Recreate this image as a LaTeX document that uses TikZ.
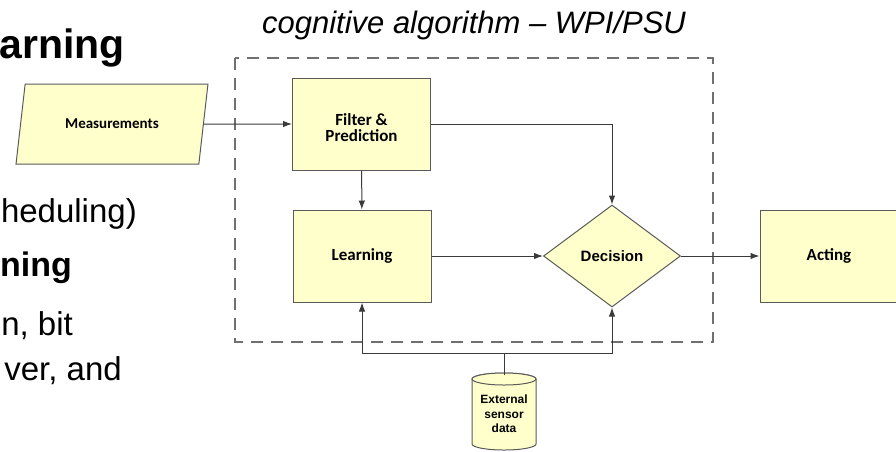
\documentclass[tikz,border=0pt]{standalone}
\usepackage{fontspec}
\setmainfont{Liberation Sans}
\newfontfamily\calibri{Carlito}
\usetikzlibrary{shapes.geometric,arrows.meta}
\definecolor{cyellow}{HTML}{FFFFCC}
\definecolor{cdarkgray}{HTML}{3A3A3A}
\definecolor{cborder}{HTML}{5A5A5A}
\definecolor{cgray}{HTML}{707070}

\begin{document}
\begin{tikzpicture}[x=1pt,y=-1pt,
	box/.style={draw=cborder, line width=1pt, fill=cyellow, text=black, align=center, inner sep=0pt},
	proc/.style={box, rectangle, minimum width=138pt, minimum height=92pt, font=\calibri\bfseries\fontsize{17}{16}\selectfont},
	link/.style={draw=cdarkgray, line width=1pt},
	arr/.style={link, -{Latex[length=9pt,width=6.5pt]}},
	slide/.style={font=\fontsize{33}{40}\selectfont, anchor=base east, inner sep=0pt}]
		\useasboundingbox (0,0) rectangle (896,451);
		\clip (0,0) rectangle (896,451);
		\node[slide, font=\bfseries\fontsize{41}{48}\selectfont] (T1) at (125,58) {arning};
		\node[slide] (T2) at (137,222) {heduling)};
		\node[slide, font=\bfseries\fontsize{34}{40}\selectfont] (T3) at (72,276) {ning};
		\node[slide] (T4) at (73,335) {n, bit};
		\node[slide] (T5) at (122,380) {ver, and};
		\node[font=\itshape\fontsize{31}{37}\selectfont, anchor=base, inner sep=0pt] (title) at (474,33) {cognitive algorithm \textendash{} WPI/PSU};
		\draw[cgray, line width=1.2pt, dash pattern=on 12pt off 8pt] (235,58) rectangle (713,342);
		\node[box, trapezium, trapezium left angle=63.4, trapezium right angle=116.6, trapezium stretches=true, minimum width=192pt, minimum height=80pt, font=\calibri\bfseries\fontsize{15}{18}\selectfont] (M) at (112,124) {Measurements};
		\node[proc, text height=36pt] (F) at (361.5,124) {Filter \&\\Prediction};
		\node[proc] (L) at (362,256) {Learning};
		\node[box, diamond, minimum width=137pt, minimum height=102pt, font=\bfseries\fontsize{15}{18}\selectfont] (D) at (612,256) {Decision};
		\node[proc] (A) at (829,256) {Acting};
		\draw[box] (472,379) -- (472,444) arc[start angle=180, end angle=0, x radius=32, y radius=6] -- (536,379) arc[start angle=0, end angle=-180, x radius=32, y radius=6] -- cycle;
		\draw[box] (504,379) ellipse[x radius=32, y radius=6];
		\node[minimum width=64pt, minimum height=77pt, inner sep=0pt, align=center, font=\bfseries\fontsize{12}{14.5}\selectfont] (E) at (504,414) {External\\sensor\\data};
		\coordinate (bus) at (504,353);
		\draw[arr] (M.east) -- (F.west);
		\draw[arr] (F.east) -| (D.north);
		\draw[arr] (F) -- (L);
		\draw[arr] (L) -- (D);
		\draw[arr] (D) -- (A);
		\draw[link] (E.north) -- (bus);
		\draw[arr] (bus) -| (L.south);
		\draw[arr] (bus) -| (D.south);
	\end{tikzpicture}
\end{document}
